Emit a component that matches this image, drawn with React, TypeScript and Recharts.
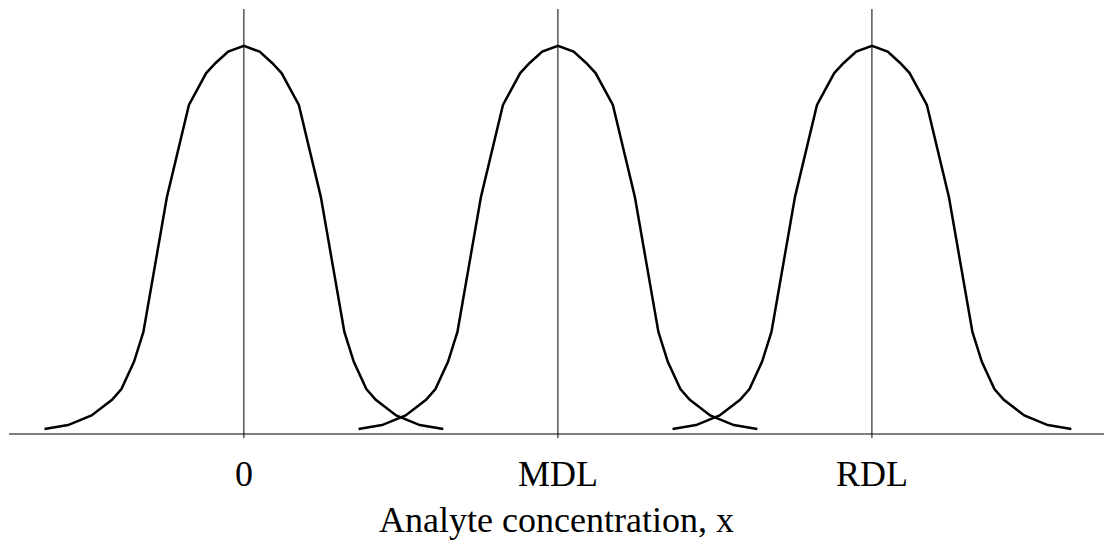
import { LineChart, Line, XAxis, YAxis, ReferenceLine } from 'recharts'

// centres of the three distributions, in concentration units
const centers = [0, 10, 20]
const tickLabels = ['0', 'MDL', 'RDL']

// shape of one distribution (offset from centre, relative height)
const offsets = [-6.35, -5.6, -4.85, -4.2, -3.9, -3.5, -3.2, -2.45, -1.75, -1.2, -0.9, -0.5, 0, 0.5, 0.9, 1.2, 1.75, 2.45, 3.2, 3.5, 3.9, 4.2, 4.85, 5.6, 6.35]
const heights = [0.013, 0.023, 0.048, 0.088, 0.116, 0.186, 0.263, 0.611, 0.848, 0.93, 0.956, 0.985, 1, 0.985, 0.956, 0.93, 0.848, 0.611, 0.263, 0.186, 0.116, 0.088, 0.048, 0.023, 0.013]

const font = 'Liberation Serif, Times New Roman, serif'

export default function App() {
  const curves = centers.map((c) =>
    offsets.map((o, i) => ({ x: c + o, y: heights[i] }))
  )

  return (
    <div style={{ width: 1104, height: 544, background: '#fff' }}>
      <style>{`body{margin:0}`}</style>
      <LineChart width={1104} height={544} margin={{ top: 9, right: 0, left: 9, bottom: 0 }}>
        <XAxis
          type="number"
          dataKey="x"
          domain={[-7.48, 27.39]}
          ticks={centers}
          tickFormatter={(v: number) => tickLabels[centers.indexOf(v)] ?? ''}
          axisLine={{ stroke: '#000', strokeWidth: 1.2 }}
          tickLine={{ stroke: '#000' }}
          tickSize={4}
          tickMargin={22}
          height={110}
          interval={0}
          tick={{ fill: '#000', fontSize: 36, fontFamily: font }}
          label={{
            value: 'Analyte concentration, x',
            position: 'insideBottom',
            offset: 12,
            fill: '#000',
            fontSize: 36,
            fontFamily: font,
          }}
          allowDataOverflow
        />
        <YAxis hide type="number" domain={[0, 1.095]} allowDataOverflow />
        {centers.map((c) => (
          <ReferenceLine key={'r' + c} x={c} stroke="#000" strokeWidth={1} />
        ))}
        {curves.map((d, i) => (
          <Line
            key={i}
            data={d}
            dataKey="y"
            type="linear"
            stroke="#000"
            strokeWidth={2.5}
            dot={false}
            activeDot={false}
            isAnimationActive={false}
          />
        ))}
      </LineChart>
    </div>
  )
}
